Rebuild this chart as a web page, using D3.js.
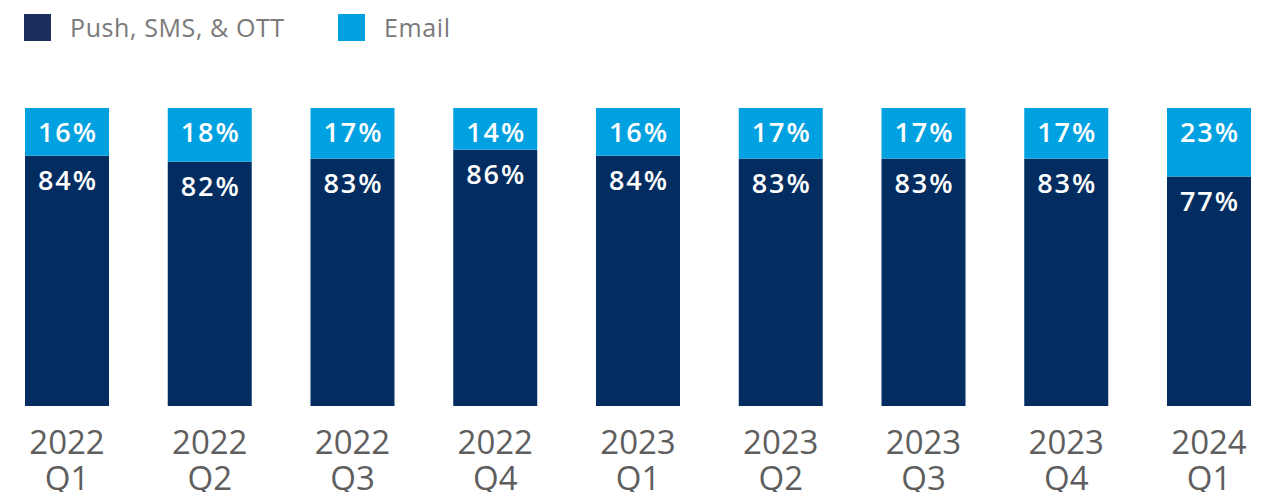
<!DOCTYPE html>
<html>
<head>
<meta charset="utf-8">
<script src="https://cdn.jsdelivr.net/npm/d3@7"></script>
<style>
  html, body { margin: 0; padding: 0; background: #ffffff; }
  svg { display: block; }
</style>
</head>
<body>
<svg id="chart" width="1271" height="492"></svg>
<script>
// Quarterly share of messages by channel (percent)
const quarters = ["2022 Q1", "2022 Q2", "2022 Q3", "2022 Q4", "2023 Q1", "2023 Q2", "2023 Q3", "2023 Q4", "2024 Q1"];
const pushSmsOtt = [84, 82, 83, 86, 84, 83, 83, 83, 77];
const email = [16, 18, 17, 14, 16, 17, 17, 17, 23];
const seriesNames = ["Push, SMS, & OTT", "Email"];
const seriesColors = ["#032d60", "#00a1e0"];

const svg = d3.select("#chart");

const rows = quarters.map((q, i) => ({ quarter: q, push: pushSmsOtt[i], email: email[i] }));
const stack = d3.stack().keys(["push", "email"])(rows);

const x = d3.scaleBand()
  .domain(quarters)
  .range([-3.55, 1279.54])
  .paddingInner(0.4116)
  .paddingOuter(0.2);

const y = d3.scaleLinear().domain([0, 100]).range([406, 108]);

// stacked bars
const layers = svg.append("g").selectAll("g")
  .data(stack)
  .join("g")
  .attr("fill", (d, i) => seriesColors[i]);

layers.selectAll("rect")
  .data(d => d)
  .join("rect")
  .attr("x", d => x(d.data.quarter))
  .attr("width", x.bandwidth())
  .attr("y", d => y(d[1]))
  .attr("height", d => y(d[0]) - y(d[1]));

// value labels near the top of each segment
layers.selectAll("text")
  .data((d) => d.map(v => ({ v, key: d.key })))
  .join("text")
  .attr("x", d => x(d.v.data.quarter) + x.bandwidth() / 2 + 1)
  .attr("y", d => y(d.v[1]) + 34)
  .attr("text-anchor", "middle")
  .attr("fill", "#ffffff")
  .attr("font-family", "'Open Sans', sans-serif")
  .attr("font-weight", 600)
  .attr("font-size", 27)
  .attr("letter-spacing", 2)
  .text(d => d.v.data[d.key] + "%");

// category axis with two-line labels
const axis = svg.append("g")
  .attr("transform", "translate(0,406)")
  .call(d3.axisBottom(x).tickSize(0).tickPadding(0));
axis.select(".domain").remove();
axis.selectAll(".tick text")
  .attr("fill", "#5e5e5e")
  .attr("font-family", "'Open Sans', sans-serif")
  .attr("font-size", 33)
  .attr("y", 0)
  .attr("dy", null)
  .each(function (d) {
    const parts = d.split(" ");
    const t = d3.select(this).text(null);
    t.append("tspan").attr("x", 0).attr("y", 48).text(parts[0]);
    t.append("tspan").attr("x", 0).attr("y", 84).text(parts[1]);
  });

// legend
const legendX = [24, 338];
const legend = svg.append("g").selectAll("g")
  .data(seriesNames)
  .join("g")
  .attr("transform", (d, i) => `translate(${legendX[i]},14)`);
legend.append("rect")
  .attr("width", 27).attr("height", 27)
  .attr("fill", (d, i) => i === 0 ? "#1c2f5c" : seriesColors[1]);
legend.append("text")
  .attr("x", 46).attr("y", 23)
  .attr("fill", "#7a7a7a")
  .attr("font-family", "'Open Sans', sans-serif")
  .attr("font-size", 25)
  .attr("letter-spacing", 0.6)
  .text(d => d);
</script>
</body>
</html>
